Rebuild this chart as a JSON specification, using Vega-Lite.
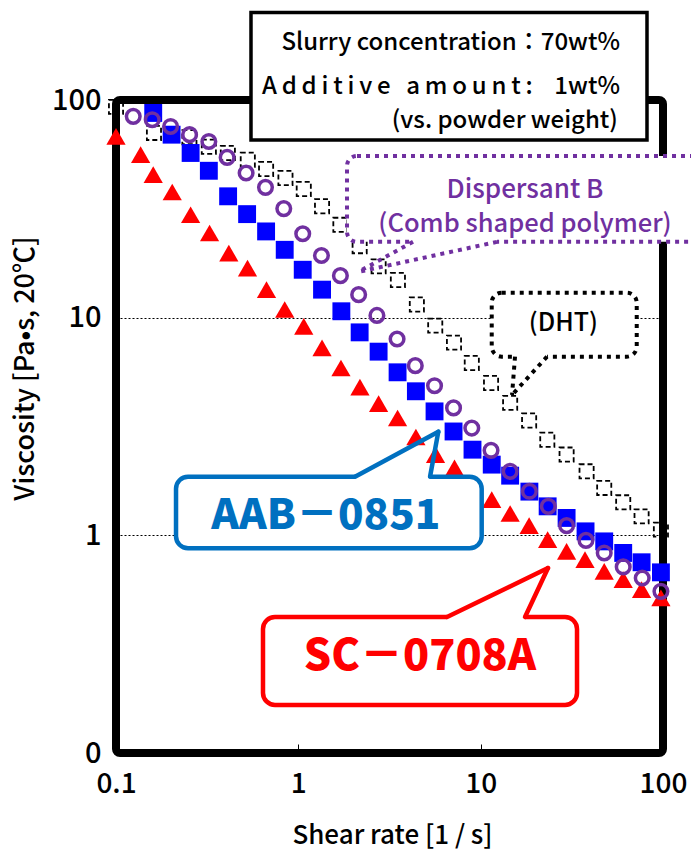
{
"$schema": "https://vega.github.io/schema/vega-lite/v6.json",
"width": 547, "height": 653,
"autosize": "none",
"padding": {"left": 116, "top": 100, "right": 28, "bottom": 102},
"background": "white",
"config": {"view": {"stroke": null}, "font": "Noto Sans CJK JP",
  "axis": {"labelFont": "Noto Sans CJK JP", "titleFont": "Noto Sans CJK JP", "labelColor": "black", "titleColor": "black"}},
"datasets": {
  "dht": [
    {"x":0.1,"y":93},{"x":0.1615,"y":70.6},{"x":0.2018,"y":69.0},{"x":0.2527,"y":67.5},{"x":0.323,"y":61.0},{"x":0.4106,"y":57.1},{"x":0.5282,"y":53.2},{"x":0.6656,"y":48.2},{"x":0.850,"y":43.8},{"x":1.071,"y":39.0},{"x":1.349,"y":32.5},{"x":1.701,"y":26.7},{"x":2.169,"y":21.3},{"x":2.756,"y":17.2},{"x":3.516,"y":14.9},{"x":4.467,"y":11.5},{"x":5.634,"y":9.19},{"x":7.14,"y":7.68},{"x":8.94,"y":6.19},{"x":11.4,"y":5.01},{"x":14.51,"y":4.06},{"x":18.44,"y":3.37},{"x":23.2,"y":2.75},{"x":29.6,"y":2.35},{"x":38.1,"y":1.968},{"x":47.6,"y":1.651},{"x":60.5,"y":1.418},{"x":76.3,"y":1.222},{"x":97.4,"y":1.062}
  ],
  "aab": [
    {"x":0.160,"y":87.2},{"x":0.2018,"y":69.3},{"x":0.2566,"y":57.1},{"x":0.323,"y":47.3},{"x":0.412,"y":36.1},{"x":0.5237,"y":29.9},{"x":0.6656,"y":24.9},{"x":0.842,"y":20.5},{"x":1.057,"y":16.6},{"x":1.349,"y":13.45},{"x":1.722,"y":10.7},{"x":2.169,"y":8.56},{"x":2.756,"y":6.98},{"x":3.502,"y":5.61},{"x":4.413,"y":4.59},{"x":5.585,"y":3.71},{"x":7.10,"y":3.00},{"x":9.02,"y":2.475},{"x":11.5,"y":2.113},{"x":14.51,"y":1.88},{"x":18.5,"y":1.588},{"x":23.3,"y":1.359},{"x":29.6,"y":1.202},{"x":37.6,"y":1.043},{"x":47.6,"y":0.938},{"x":60.5,"y":0.830},{"x":76.3,"y":0.752},{"x":97.4,"y":0.676}
  ],
  "sc": [
    {"x":0.1,"y":68.1},{"x":0.1365,"y":56.1},{"x":0.160,"y":45.4},{"x":0.2034,"y":37.8},{"x":0.2566,"y":29.7},{"x":0.326,"y":24.5},{"x":0.4157,"y":19.8},{"x":0.5263,"y":16.9},{"x":0.669,"y":13.45},{"x":0.842,"y":10.9},{"x":1.071,"y":9.12},{"x":1.349,"y":7.26},{"x":1.713,"y":5.87},{"x":2.177,"y":4.80},{"x":2.756,"y":4.03},{"x":3.502,"y":3.46},{"x":4.413,"y":2.83},{"x":5.655,"y":2.35},{"x":7.186,"y":2.04},{"x":9.02,"y":1.69},{"x":11.5,"y":1.46},{"x":14.51,"y":1.26},{"x":18.44,"y":1.108},{"x":23.3,"y":0.955},{"x":29.6,"y":0.844},{"x":37.35,"y":0.774},{"x":47.6,"y":0.683},{"x":60.5,"y":0.626},{"x":76.3,"y":0.563},{"x":97.4,"y":0.516}
  ],
  "disp": [
    {"x":0.1243,"y":84.1},{"x":0.158,"y":81.2},{"x":0.1993,"y":75.6},{"x":0.2533,"y":69.3},{"x":0.323,"y":64.5},{"x":0.4069,"y":54.5},{"x":0.5171,"y":46.2},{"x":0.6605,"y":39.7},{"x":0.832,"y":31.7},{"x":1.057,"y":24.3},{"x":1.339,"y":19.3},{"x":1.701,"y":15.6},{"x":2.142,"y":12.76},{"x":2.698,"y":10.24},{"x":3.48,"y":7.98},{"x":4.38,"y":6.02},{"x":5.585,"y":4.87},{"x":7.10,"y":3.85},{"x":8.94,"y":3.11},{"x":11.4,"y":2.457},{"x":14.51,"y":1.968},{"x":18.5,"y":1.593},{"x":23.5,"y":1.359},{"x":29.6,"y":1.108},{"x":37.8,"y":0.948},{"x":47.6,"y":0.830},{"x":60.5,"y":0.716},{"x":76.9,"y":0.637},{"x":97.4,"y":0.553}
  ]
},
"layer": [
  {"data": {"values": [{}]},
   "mark": {"type": "rect", "filled": false, "stroke": "black", "strokeWidth": 8, "cornerRadius": 4},
   "encoding": {
     "x": {"datum": 0.1, "type": "quantitative", "scale": {"type": "log", "domain": [0.1, 100], "nice": false},
       "axis": {"values": [0.1, 1, 10, 100], "format": "~g", "title": "Shear rate [1 / s]", "grid": false, "domain": false,
         "ticks": true, "tickSize": -9, "tickColor": "black", "tickWidth": 1,
         "labelFontSize": 28, "labelFontWeight": 500, "labelPadding": 26, "labelFlush": false, "titleFontSize": 26, "titleFontWeight": 500,
         "titleX": 276, "titleY": 82, "titleBaseline": "middle", "titleAlign": "center"}},
     "x2": {"datum": 100},
     "y": {"datum": 0.1, "type": "quantitative", "scale": {"type": "log", "domain": [0.1, 100], "nice": false},
       "axis": {"values": [0.1, 1, 10, 100], "format": "~g", "labelExpr": "datum.value < 0.5 ? '0' : datum.label",
         "title": "Viscosity [Pa•s, 20℃]", "grid": true, "gridColor": "black", "gridDash": [2, 2], "gridWidth": 1, "gridOpacity": 1,
         "domain": false, "ticks": false, "labelFontSize": 29, "labelFontWeight": 500, "labelPadding": 15, "labelFlush": false,
         "titleFontSize": 27, "titleFontWeight": 500, "titleX": -91, "titleY": 268, "titleAngle": 270,
         "titleBaseline": "middle", "titleAlign": "center"}},
     "y2": {"datum": 100}
   }},
  {"data": {"name": "dht"},
   "mark": {"type": "point", "shape": "square", "filled": false, "stroke": "black", "strokeWidth": 1.8, "strokeDash": [5, 3], "size": 200, "opacity": 1},
   "encoding": {"x": {"field": "x", "type": "quantitative"}, "y": {"field": "y", "type": "quantitative"}}},
  {"data": {"name": "aab"},
   "mark": {"type": "point", "shape": "square", "filled": true, "color": "#0000FF", "size": 320, "opacity": 1},
   "encoding": {"x": {"field": "x", "type": "quantitative"}, "y": {"field": "y", "type": "quantitative"}}},
  {"data": {"name": "sc"},
   "mark": {"type": "point", "shape": "triangle-up", "filled": true, "color": "#FF0000", "size": 370, "opacity": 1},
   "encoding": {"x": {"field": "x", "type": "quantitative"}, "y": {"field": "y", "type": "quantitative"}}},
  {"data": {"name": "disp"},
   "mark": {"type": "point", "shape": "circle", "filled": false, "stroke": "#7030A0", "strokeWidth": 3.5, "size": 185, "opacity": 1},
   "encoding": {"x": {"field": "x", "type": "quantitative"}, "y": {"field": "y", "type": "quantitative"}}},

  {"data": {"values": [{}]},
   "mark": {"type": "rect", "fill": "white", "stroke": "black", "strokeWidth": 3.5},
   "encoding": {"x": {"datum": 0.55}, "x2": {"datum": 81.7}, "y": {"datum": 252.4}, "y2": {"datum": 65.5}}},
  {"data": {"values": [{}]},
   "mark": {"type": "text", "text": "Slurry concentration：70wt%", "align": "right", "baseline": "middle", "fontSize": 24, "fontWeight": 500, "color": "black"},
   "encoding": {"x": {"datum": 58.1}, "y": {"datum": 182.2}}},
  {"data": {"values": [{}]},
   "mark": {"type": "text", "text": "A\u2009d\u2009d\u2009i\u2009t\u2009i\u2009v\u2009e\u00a0\u00a0\u2009a\u2009m\u2009o\u2009u\u2009n\u2009t\u2009:\u00a0\u00a0\u00a0\u00a01wt%", "align": "right", "baseline": "middle", "fontSize": 24, "fontWeight": 500, "color": "black"},
   "encoding": {"x": {"datum": 58.1}, "y": {"datum": 115.1}}},
  {"data": {"values": [{}]},
   "mark": {"type": "text", "text": "(vs. powder weight)", "align": "right", "baseline": "middle", "fontSize": 24, "fontWeight": 500, "color": "black"},
   "encoding": {"x": {"datum": 56.6}, "y": {"datum": 80.1}}},

  {"data": {"values": [{}]},
   "mark": {"type": "rect", "fill": "white", "stroke": "#7030A0", "strokeWidth": 4, "strokeDash": [4, 5], "cornerRadius": 10},
   "encoding": {"x": {"datum": 1.849}, "x2": {"datum": 159.6}, "y": {"datum": 55.3}, "y2": {"datum": 22.3}}},
  {"data": {"values": [{}]},
   "mark": {"type": "rule", "color": "white", "strokeWidth": 7},
   "encoding": {"x": {"datum": 4.255}, "x2": {"datum": 12.29}, "y": {"datum": 22.3}}},
  {"data": {"values": [{}]},
   "mark": {"type": "rule", "color": "#7030A0", "strokeWidth": 4, "strokeDash": [4, 5]},
   "encoding": {"x": {"datum": 4.255}, "x2": {"datum": 2.125}, "y": {"datum": 22.3}, "y2": {"datum": 16.21}}},
  {"data": {"values": [{}]},
   "mark": {"type": "rule", "color": "#7030A0", "strokeWidth": 4, "strokeDash": [4, 5]},
   "encoding": {"x": {"datum": 12.29}, "x2": {"datum": 2.125}, "y": {"datum": 22.3}, "y2": {"datum": 16.21}}},
  {"data": {"values": [{}]},
   "mark": {"type": "text", "text": "Dispersant B", "align": "center", "baseline": "middle", "fontSize": 26, "fontWeight": 500, "color": "#7030A0"},
   "encoding": {"x": {"datum": 17.51}, "y": {"datum": 38.6}}},
  {"data": {"values": [{}]},
   "mark": {"type": "text", "text": "(Comb shaped polymer)", "align": "center", "baseline": "middle", "fontSize": 25.5, "fontWeight": 500, "color": "#7030A0"},
   "encoding": {"x": {"datum": 17.51}, "y": {"datum": 26.9}}},

  {"data": {"values": [{}]},
   "mark": {"type": "rect", "fill": "white", "stroke": "black", "strokeWidth": 4, "strokeDash": [4, 5], "cornerRadius": 10},
   "encoding": {"x": {"datum": 11.50}, "x2": {"datum": 71.77}, "y": {"datum": 13.02}, "y2": {"datum": 6.62}}},
  {"data": {"values": [{}]},
   "mark": {"type": "rule", "color": "white", "strokeWidth": 7},
   "encoding": {"x": {"datum": 15.43}, "x2": {"datum": 23.11}, "y": {"datum": 6.62}}},
  {"data": {"values": [{}]},
   "mark": {"type": "rule", "color": "black", "strokeWidth": 4, "strokeDash": [4, 5]},
   "encoding": {"x": {"datum": 15.43}, "x2": {"datum": 14.86}, "y": {"datum": 6.62}, "y2": {"datum": 4.413}}},
  {"data": {"values": [{}]},
   "mark": {"type": "rule", "color": "black", "strokeWidth": 4, "strokeDash": [4, 5]},
   "encoding": {"x": {"datum": 23.11}, "x2": {"datum": 14.86}, "y": {"datum": 6.62}, "y2": {"datum": 4.413}}},
  {"data": {"values": [{}]},
   "mark": {"type": "text", "text": "(DHT)", "align": "center", "baseline": "middle", "fontSize": 25, "fontWeight": 500, "color": "black"},
   "encoding": {"x": {"datum": 28.4}, "y": {"datum": 9.42}}},

  {"data": {"values": [{}]},
   "mark": {"type": "rect", "fill": "white", "stroke": "#0070C0", "strokeWidth": 4.5, "cornerRadius": 12},
   "encoding": {"x": {"datum": 0.2134}, "x2": {"datum": 10.13}, "y": {"datum": 1.859}, "y2": {"datum": 0.872}}},
  {"data": {"values": [{}]},
   "mark": {"type": "rule", "color": "white", "strokeWidth": 7},
   "encoding": {"x": {"datum": 2.046}, "x2": {"datum": 5.276}, "y": {"datum": 1.859}}},
  {"data": {"values": [{}]},
   "mark": {"type": "rule", "color": "#0070C0", "strokeWidth": 4.5, "strokeCap": "round"},
   "encoding": {"x": {"datum": 2.046}, "x2": {"datum": 5.859}, "y": {"datum": 1.859}, "y2": {"datum": 2.993}}},
  {"data": {"values": [{}]},
   "mark": {"type": "rule", "color": "#0070C0", "strokeWidth": 4.5, "strokeCap": "round"},
   "encoding": {"x": {"datum": 5.276}, "x2": {"datum": 5.859}, "y": {"datum": 1.859}, "y2": {"datum": 2.993}}},
  {"data": {"values": [{}]},
   "mark": {"type": "text", "text": "AAB－0851", "align": "center", "baseline": "middle", "fontSize": 42, "fontWeight": 900, "color": "#0070C0"},
   "encoding": {"x": {"datum": 1.415}, "y": {"datum": 1.23}}},

  {"data": {"values": [{}]},
   "mark": {"type": "rect", "fill": "white", "stroke": "#FF0000", "strokeWidth": 4.5, "cornerRadius": 12},
   "encoding": {"x": {"datum": 0.640}, "x2": {"datum": 33.76}, "y": {"datum": 0.4215}, "y2": {"datum": 0.1662}}},
  {"data": {"values": [{}]},
   "mark": {"type": "rule", "color": "white", "strokeWidth": 7},
   "encoding": {"x": {"datum": 6.538}, "x2": {"datum": 17.51}, "y": {"datum": 0.4215}}},
  {"data": {"values": [{}]},
   "mark": {"type": "rule", "color": "#FF0000", "strokeWidth": 4.5, "strokeCap": "round"},
   "encoding": {"x": {"datum": 6.538}, "x2": {"datum": 23.40}, "y": {"datum": 0.4215}, "y2": {"datum": 0.708}}},
  {"data": {"values": [{}]},
   "mark": {"type": "rule", "color": "#FF0000", "strokeWidth": 4.5, "strokeCap": "round"},
   "encoding": {"x": {"datum": 17.51}, "x2": {"datum": 23.40}, "y": {"datum": 0.4215}, "y2": {"datum": 0.708}}},
  {"data": {"values": [{}]},
   "mark": {"type": "text", "text": "SC－0708A", "align": "center", "baseline": "middle", "fontSize": 43, "fontWeight": 900, "color": "#FF0000"},
   "encoding": {"x": {"datum": 4.649}, "y": {"datum": 0.276}}}
]
}
